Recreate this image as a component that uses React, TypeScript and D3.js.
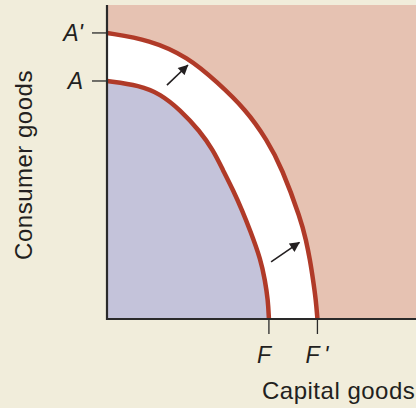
import React from 'react';
import * as d3 from 'd3';

// production possibilities frontiers (capital, consumer)
const innerFrontier: [number, number][] = [
    [0, 75.8], [10.7, 74.4], [17.2, 71.7], [23.6, 66.7], [30.1, 59.8],
    [34.3, 53.8], [37.5, 47.5], [40.8, 41.1], [43.7, 34.7], [46.3, 28.3],
    [49.8, 18.8], [51.1, 12.4], [52.1, 6.1], [52.4, 0]
];
const outerFrontier: [number, number][] = [
    [0, 91.1], [13.9, 88.9], [26.2, 83.4], [35.6, 75.5], [45.0, 66.6],
    [51.8, 57.0], [56.6, 48.1], [62.8, 31.5], [64.4, 25.2],
    [65.7, 18.8], [66.7, 12.4], [67.6, 6.1], [68.1, 0]
];
// shift arrows [from, to]
const shiftArrows: [[number, number], [number, number]][] = [
    [[19.4, 74.5], [26.2, 80.9]],
    [[53.1, 18.2], [62.3, 24.4]]
];
const yTicks = [{v: 75.8, label: 'A'}, {v: 91.1, label: "A'"}];
const xTicks = [{v: 52.4, label: 'F'}, {v: 68.1, label: "F\u2009'"}];
const xTitle = 'Capital goods';
const yTitle = 'Consumer goods';

const W = 416, H = 408;
const m = {left: 107, right: 416, top: 5, bottom: 319};

const colors = {
    bg: '#f1eddb',
    outside: '#e6c2b2',
    band: '#ffffff',
    inside: '#c4c3da',
    curve: '#b03a28',
    axis: '#2a2a2a',
    text: '#231f20'
};

export default function App() {
    const x = d3.scaleLinear().domain([0, 100]).range([m.left, m.right]);
    const y = d3.scaleLinear().domain([0, 100]).range([m.bottom, m.top]);

    // basis smooths the hand-read points a bit
    const line = d3.line<[number, number]>()
        .x(d => x(d[0]))
        .y(d => y(d[1]))
        .curve(d3.curveBasis);
    const area = d3.area<[number, number]>()
        .x(d => x(d[0]))
        .y0(y(0))
        .y1(d => y(d[1]))
        .curve(d3.curveBasis);

    const font = '"Liberation Sans", Arial, sans-serif';

    return (
        <svg width={W} height={H} style={{position: 'fixed', left: 0, top: 0, background: colors.bg}}>
            <defs>
                <marker id='head' viewBox='0 0 10 10' refX='9.5' refY='5' markerWidth='11' markerHeight='10'
                        markerUnits='userSpaceOnUse' orient='auto'>
                    <path d='M0,0 L10,5 L0,10 z' fill={colors.text}/>
                </marker>
            </defs>
            <rect x={m.left} y={m.top} width={m.right - m.left} height={m.bottom - m.top} fill={colors.outside}/>
            <path d={area(outerFrontier) || ''} fill={colors.band}/>
            <path d={area(innerFrontier) || ''} fill={colors.inside}/>
            <path d={line(outerFrontier) || ''} fill='none' stroke={colors.curve} strokeWidth={4.5}/>
            <path d={line(innerFrontier) || ''} fill='none' stroke={colors.curve} strokeWidth={4.5}/>

            {shiftArrows.map((a, i) => (
                <line key={i} x1={x(a[0][0])} y1={y(a[0][1])} x2={x(a[1][0])} y2={y(a[1][1])}
                      stroke={colors.text} strokeWidth={1.6} markerEnd='url(#head)'/>
            ))}

            {/* axes */}
            <line x1={m.left} x2={m.left} y1={m.top} y2={m.bottom + 1} stroke={colors.axis} strokeWidth={2.2}/>
            <line x1={m.left} x2={m.right} y1={m.bottom} y2={m.bottom} stroke={colors.axis} strokeWidth={2}/>

            {yTicks.map(t => (
                <g key={t.label}>
                    <line x1={m.left - 15} x2={m.left} y1={y(t.v)} y2={y(t.v)} stroke={colors.axis} strokeWidth={1.3}/>
                    <text x={m.left - 24} y={y(t.v) + 8} textAnchor='end' fontFamily={font} fontStyle='italic'
                          fontSize={23} fill={colors.text}>{t.label}</text>
                </g>
            ))}
            {xTicks.map(t => (
                <g key={t.label}>
                    <line x1={x(t.v)} x2={x(t.v)} y1={m.bottom} y2={m.bottom + 15} stroke={colors.axis} strokeWidth={1.3}/>
                    <text x={x(t.v) - 12} y={m.bottom + 44} fontFamily={font} fontStyle='italic'
                          fontSize={23} fill={colors.text}>{t.label}</text>
                </g>
            ))}

            <text x={262} y={399} fontFamily={font} fontSize={24} letterSpacing={0.5} fill={colors.text}>{xTitle}</text>
            <text transform='translate(32,165) rotate(-90)' textAnchor='middle' fontFamily={font} fontSize={24}
                  letterSpacing={0.5} fill={colors.text}>{yTitle}</text>
        </svg>
    );
}
